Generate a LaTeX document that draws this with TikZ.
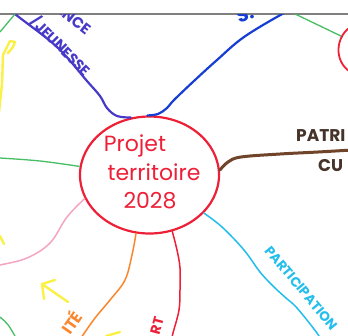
\documentclass[tikz,border=0pt]{standalone}
\usepackage{fontspec}
\setmainfont{Poppins}
\usetikzlibrary{shapes.geometric}
\definecolor{mmred}{RGB}{238,32,56}
\definecolor{mmindigo}{RGB}{72,58,200}
\definecolor{mmblue}{RGB}{22,62,210}
\definecolor{mmgreen}{RGB}{70,190,100}
\definecolor{mmyellow}{RGB}{250,240,70}
\definecolor{mmpink}{RGB}{245,165,195}
\definecolor{mmorange}{RGB}{250,135,45}
\definecolor{mmcyan}{RGB}{35,190,235}
\definecolor{mmbrown}{RGB}{112,68,42}
\definecolor{mmdark}{RGB}{70,52,42}
\tikzset{
  branch/.style={line width=2.2pt, line cap=round, line join=round},
  thin branch/.style={line width=1.5pt, line cap=round, line join=round},
  hubtext/.style={text=mmred, font=\fontsize{22}{24}\selectfont, inner sep=0pt},
  lbl/.style={font=\bfseries\fontsize{#1}{#1}\selectfont, inner sep=0pt},
}
\begin{document}
\begin{tikzpicture}[x=1pt,y=-1pt]
\useasboundingbox (0,0) rectangle (348,335);
\fill[white] (0,0) rectangle (348,335);
\draw[gray, line width=1.2pt] (0,14) -- (348,14);
\begin{scope}
\clip (0,14.7) rectangle (348,335);
% hub
\node[ellipse, draw=mmred, line width=2.2pt, minimum width=139pt, minimum height=117pt, inner sep=0pt] (hub) at (149.5,175) {};
\node[hubtext] (t1) at (135,146) {Projet};
\node[hubtext] (t2) at (154,172) {territoire};
\node[hubtext] (t3) at (150,201) {2028};
% free ends
\coordinate (eIndigo) at (5,4);
\coordinate (eBlue) at (300,6);
\coordinate (eBrown) at (352,150);
\coordinate (eCyan) at (322,342);
\coordinate (eRed) at (171,342);
\coordinate (eOrange) at (78,342);
\coordinate (ePink) at (-6,266);
\coordinate (eGreenL) at (-4,158);
% branches
\draw[branch, mmindigo] plot[smooth, tension=0.6] coordinates {(hub.108) (117,116) (107,108) (100,96) (87,81) (57,47) (15,14) (eIndigo)};
\draw[branch, mmblue] plot[smooth, tension=0.6] coordinates {(hub.92) (158,114) (167,108) (174,100) (195,80) (217,60) (244,37) (284,13) (eBlue)};
\draw[line width=3pt, line cap=round, mmbrown] plot[smooth, tension=0.6] coordinates {(hub.4) (228,162) (241,157) (280,154) (318,152) (eBrown)};
\draw[thin branch, mmcyan] plot[smooth, tension=0.6] coordinates {(hub.-35) (222,227) (244,250) (260,272) (274,287) (286,298) (297,308) (317,333) (eCyan)};
\draw[thin branch, mmred] plot[smooth, tension=0.6] coordinates {(hub.-68) (177,250) (180,268) (180,290) (179,310) (173,333) (eRed)};
\draw[thin branch, mmorange] plot[smooth, tension=0.6] coordinates {(hub.-103) (132,255) (125,280) (110,300) (95,318) (83,335) (eOrange)};
\draw[thin branch, mmpink] plot[smooth, tension=0.6] coordinates {(hub.-160) (67,217) (50,243) (27,258) (0,265) (ePink)};
\draw[line width=1.3pt, mmgreen] plot[smooth, tension=0.6] coordinates {(hub.173) (40,161) (0,158) (eGreenL)};
% other strokes cut by the frame
\draw[line width=1.3pt, mmgreen] (15,14) -- (0,32);
\draw[line width=1.3pt, mmgreen] (293,13) -- (343,37);
\draw[line width=1.3pt, mmgreen] (0,317) .. controls (8,324) .. (15,336);
\draw[line width=1.8pt, mmred] (349,28) .. controls (336,38) and (334,60) .. (349,71);
\draw[line width=2.4pt, mmyellow, line cap=round, line join=round] (-1,112) -- (2,84) -- (3,55) -- (10,41) -- (15,42) -- (13,47) -- (8,53);
\draw[line width=2.4pt, mmyellow, line cap=round] (0,236) -- (4,244);
\draw[line width=2.4pt, mmyellow, line cap=round] (106,336) -- (120,332);
\draw[line width=2.4pt, mmyellow, line cap=round, line join=round] (68,302) -- (42,284) (55,280) -- (42,284) -- (44,299);
% labels
\node[lbl=15, text=mmindigo, rotate=-38] (lAnce) at (73,18) {ANCE};
\node[lbl=14.5, text=mmindigo, rotate=-45] (lJeun) at (61,46) {/JEUNESSE};
\node[lbl=19, text=mmblue, rotate=20] (lS) at (245,14) {S.};
\node[lbl=17, text=mmdark, anchor=west] (lPatri) at (296,136) {PATRI};
\node[lbl=17, text=mmdark, anchor=west] (lCu) at (318,166) {CU};
\node[lbl=13.5, text=mmcyan, rotate=-50] (lPart) at (301,288) {PARTICIPATION};
\node[lbl=16, text=mmorange, rotate=55] (lIte) at (71,322) {ITÉ};
\node[lbl=14, text=mmred, rotate=75] (lRt) at (157,326) {RT};
\end{scope}
\end{tikzpicture}
\end{document}
